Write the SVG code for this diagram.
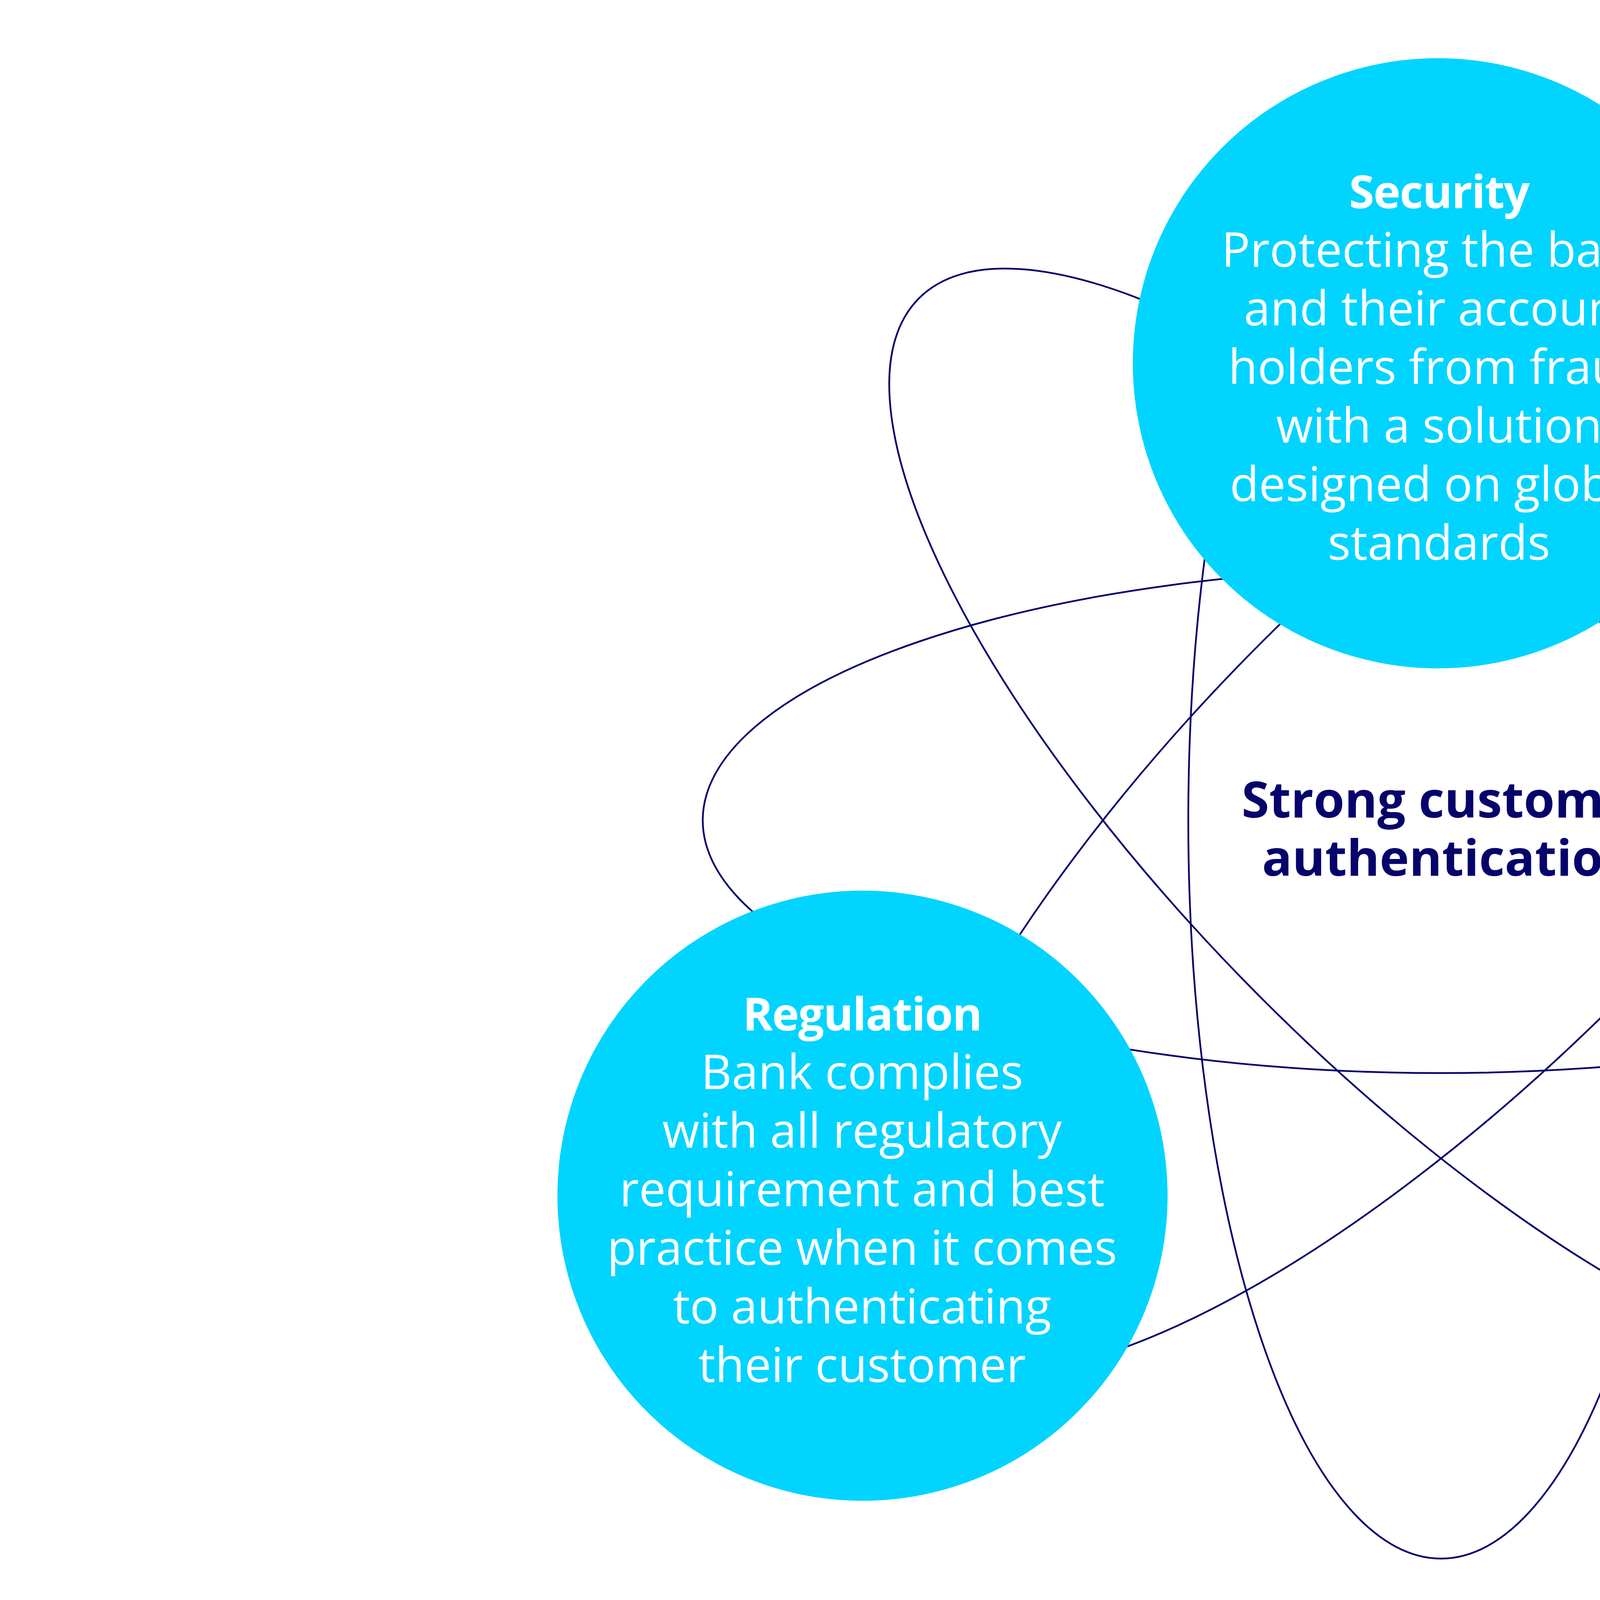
<svg xmlns="http://www.w3.org/2000/svg" width="7417" height="4173" viewBox="0 0 7417 4173">
<style>
.orbit{fill:none;stroke:#06046B;stroke-width:4.5}
.disc{fill:#00D4FF}
.t{font-family:"Open Sans","Noto Sans","DejaVu Sans",sans-serif;font-size:122px;fill:#FFFFFF;text-anchor:middle}
.b{font-weight:700;font-size:117px;letter-spacing:-2px}
.c{fill:#06046B;font-size:128px;letter-spacing:0px}
</style>
<rect x="0" y="0" width="7417" height="4173" fill="#FFFFFF"/>
<g id="connectors">
<ellipse class="orbit" cx="3689" cy="2100" rx="1890" ry="647"/>
<ellipse class="orbit" cx="3689" cy="2100" rx="1890" ry="647" transform="rotate(45 3689 2100)"/>
<ellipse class="orbit" cx="3689" cy="2100" rx="1890" ry="647" transform="rotate(90 3689 2100)"/>
<ellipse class="orbit" cx="3689" cy="2100" rx="1890" ry="647" transform="rotate(135 3689 2100)"/>
</g>
<g id="security">
<circle class="disc" cx="3681" cy="930" r="781"/>
<text class="t b" x="3684" y="533">Security</text>
<text class="t" x="3684" y="683">Protecting the bank</text>
<text class="t" x="3684" y="833">and their account</text>
<text class="t" x="3684" y="983">holders from fraud</text>
<text class="t" x="3684" y="1133">with a solution</text>
<text class="t" x="3684" y="1283">designed on global</text>
<text class="t" x="3684" y="1433">standards</text>
</g>
<g id="regulation">
<circle class="disc" cx="2208" cy="3061" r="781"/>
<text class="t b" x="2207" y="2638">Regulation</text>
<text class="t" x="2207" y="2788">Bank complies</text>
<text class="t" x="2207" y="2938">with all regulatory</text>
<text class="t" x="2207" y="3088">requirement and best</text>
<text class="t" x="2207" y="3238">practice when it comes</text>
<text class="t" x="2207" y="3388">to authenticating</text>
<text class="t" x="2207" y="3538">their customer</text>
</g>
<g id="customer-experience">
<circle class="disc" cx="5209" cy="3062" r="781"/>
<text class="t b" x="5210" y="2572">Customer</text>
<text class="t b" x="5210" y="2722">experience</text>
<text class="t" x="5210" y="2872">Creating a great</text>
<text class="t" x="5210" y="3022">customer experience</text>
<text class="t" x="5210" y="3172">every time by not</text>
<text class="t" x="5210" y="3322">having to remember a</text>
<text class="t" x="5210" y="3472">password or manage</text>
<text class="t" x="5210" y="3622">an OTP</text>
</g>
<g id="center">
<text class="t b c" x="3709" y="2093">Strong customer</text>
<text class="t b c" x="3709" y="2242">authentication</text>
</g>
</svg>
